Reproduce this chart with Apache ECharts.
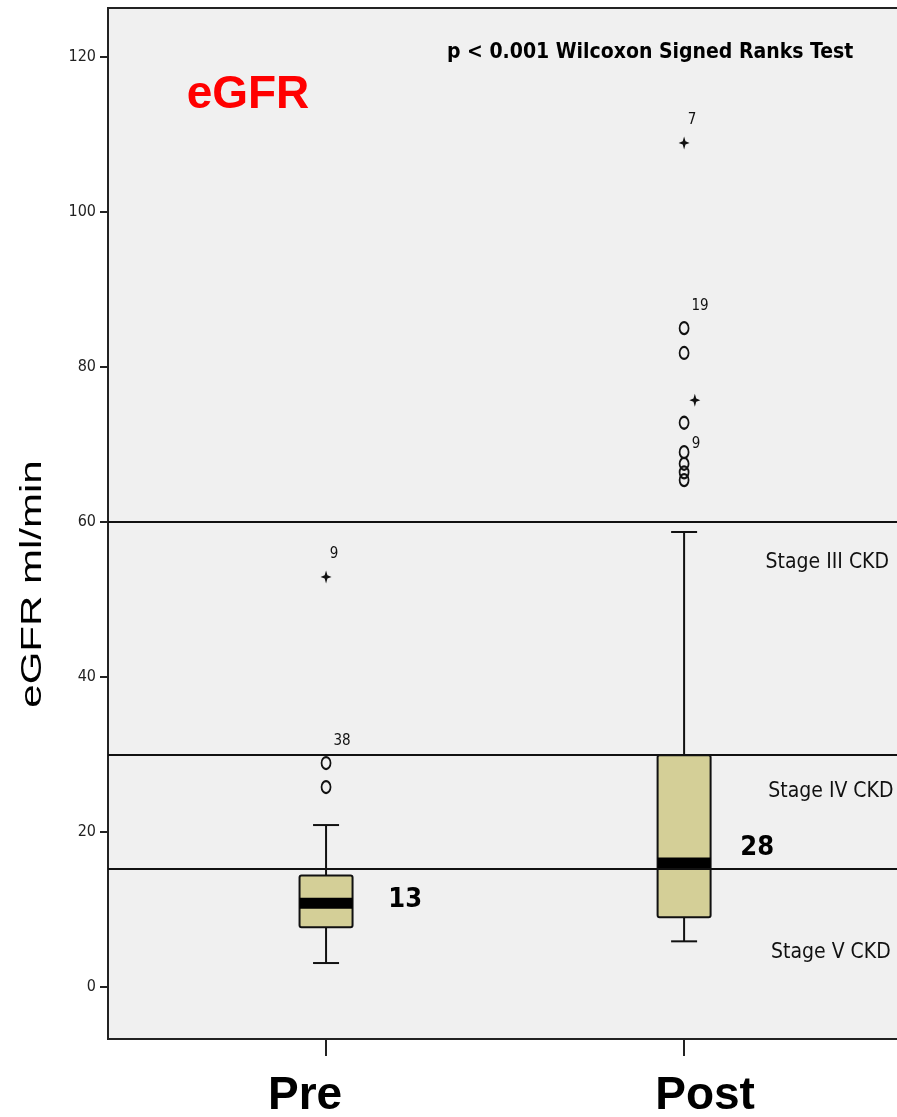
<!DOCTYPE html>
<html>
<head>
<meta charset="utf-8">
<script src="https://cdn.jsdelivr.net/npm/echarts@6/dist/echarts.min.js"></script>
<style>
  html, body { margin: 0; padding: 0; background: #fff; }
  #chart { width: 897px; height: 1117px; }
</style>
</head>
<body>
<div id="chart"></div>
<script>
  // groups sit on a value x-axis: Pre = 0, Post = 1
  const groupNames = ['Pre', 'Post'];
  const groupX = [0, 1];
  // [min, Q1, median, Q3, max]
  const boxStats = [
    [3.1, 7.7, 10.8, 14.4, 20.9],
    [5.9, 9.0, 16.0, 29.9, 58.7]
  ];
  const boxNotes = ['13', '28'];
  // outliers [x, value, case label]
  const circleOutliers = [
    [0, 28.9, '38'], [0, 25.8, ''],
    [1, 85.0, '19'], [1, 81.8, ''], [1, 72.8, ''], [1, 69.0, '9'],
    [1, 67.5, ''], [1, 66.4, ''], [1, 65.4, '']
  ];
  const extremeOutliers = [
    [0, 52.9, '9'], [1, 108.9, '7'], [1.03, 75.7, '']
  ];
  const stageCuts = [60, 30, 15.3];
  const stageLabels = [
    [1.4, 54.8, 'Stage III CKD'],
    [1.41, 25.2, 'Stage IV CKD'],
    [1.41, 4.5, 'Stage V CKD']
  ];
  const yTicks = [0, 20, 40, 60, 80, 100, 120];

  const narrow = '"Liberation Sans Narrow", "DejaVu Sans Condensed", sans-serif';
  const arial = 'Arial, "Liberation Sans", sans-serif';
  const boxColor = '#d4cf97';

  const chart = echarts.init(document.getElementById('chart'));

  function renderBox(params, api) {
    const x = api.value(0);
    const lo = api.coord([x, api.value(1)]);
    const q1 = api.coord([x, api.value(2)]);
    const med = api.coord([x, api.value(3)]);
    const q3 = api.coord([x, api.value(4)]);
    const hi = api.coord([x, api.value(5)]);
    const cx = lo[0];
    const w = 53;
    const cap = 13;
    const stroke = { stroke: '#111', lineWidth: 2 };
    return {
      type: 'group',
      children: [
        { type: 'line', shape: { x1: cx, y1: hi[1], x2: cx, y2: q3[1] }, style: stroke },
        { type: 'line', shape: { x1: cx, y1: lo[1], x2: cx, y2: q1[1] }, style: stroke },
        { type: 'line', shape: { x1: cx - cap, y1: hi[1], x2: cx + cap, y2: hi[1] }, style: stroke },
        { type: 'line', shape: { x1: cx - cap, y1: lo[1], x2: cx + cap, y2: lo[1] }, style: stroke },
        {
          type: 'rect',
          shape: { x: cx - w / 2, y: q3[1], width: w, height: q1[1] - q3[1], r: 2 },
          style: { fill: boxColor, stroke: '#111', lineWidth: 2 }
        },
        {
          type: 'rect',
          shape: { x: cx - w / 2, y: med[1] - 5.5, width: w, height: 11 },
          style: { fill: '#000' }
        }
      ]
    };
  }

  const caseLabel = (offset) => ({
    show: true,
    position: 'inside',
    offset: offset,
    formatter: (p) => p.value[2],
    fontFamily: narrow,
    fontSize: 15,
    color: '#111'
  });

  chart.setOption({
    animation: false,
    grid: {
      left: 108, right: -3, top: 8, bottom: 78,
      outerBoundsMode: 'none',
      containLabel: false,
      show: true,
      backgroundColor: '#f0f0f0',
      borderColor: '#222',
      borderWidth: 2
    },
    graphic: [
      {
        type: 'text',
        x: 33,
        y: 584,
        rotation: Math.PI / 2,
        scaleX: 1.4,
        style: {
          text: 'eGFR ml/min',
          fontFamily: arial,
          fontSize: 30,
          fill: '#000',
          align: 'center',
          verticalAlign: 'middle'
        }
      }
    ],
    xAxis: {
      type: 'value',
      min: -0.609,
      max: 1.603,
      splitLine: { show: false },
      axisLine: { show: true, onZero: false, lineStyle: { color: '#222', width: 2 } },
      axisTick: { show: true, customValues: groupX, length: 17, lineStyle: { color: '#222', width: 2 } },
      axisLabel: {
        customValues: groupX,
        formatter: (v) => (Math.round(v) === 0 ? '{pre|' : '{post|') + groupNames[Math.round(v)] + '}',
        margin: 34,
        rich: {
          pre: { fontFamily: arial, fontWeight: 'bold', fontSize: 46, color: '#000', padding: [0, 42, 0, 0] },
          post: { fontFamily: arial, fontWeight: 'bold', fontSize: 46, color: '#000', padding: [0, 0, 0, 42] }
        }
      }
    },
    yAxis: {
      type: 'value',
      min: -6.7,
      max: 126.3,
      splitLine: { show: false },
      axisLine: { show: true, onZero: false, lineStyle: { color: '#222', width: 2 } },
      axisTick: { show: true, customValues: yTicks, length: 8, lineStyle: { color: '#222', width: 2 } },
      axisLabel: { customValues: yTicks, fontFamily: narrow, fontSize: 16, color: '#222', margin: 12 }
    },
    series: [
      {
        type: 'scatter',
        data: [],
        markLine: {
          silent: true,
          symbol: 'none',
          label: { show: false },
          lineStyle: { color: '#111', width: 2, type: 'solid' },
          data: stageCuts.map((v) => ({ yAxis: v }))
        }
      },
      {
        type: 'custom',
        renderItem: renderBox,
        encode: { x: 0, y: [1, 2, 3, 4, 5] },
        data: groupX.map((x, i) => [x].concat(boxStats[i])),
        z: 3
      },
      {
        type: 'scatter',
        symbol: 'circle',
        symbolSize: [9, 12],
        itemStyle: { color: 'rgba(0,0,0,0)', borderColor: '#111', borderWidth: 2, opacity: 1 },
        data: circleOutliers.map((d) => ({
          value: d,
          label: d[1] === 69.0 ? caseLabel([12, -8]) : caseLabel([16, -22])
        })),
        z: 4
      },
      {
        type: 'scatter',
        symbol: 'path://M0,-10 L2.5,-2.5 L10,0 L2.5,2.5 L0,10 L-2.5,2.5 L-10,0 L-2.5,-2.5 Z',
        symbolSize: [11, 13],
        itemStyle: { color: '#111', opacity: 1 },
        label: caseLabel([8, -23]),
        data: extremeOutliers,
        z: 4
      },
      {
        type: 'scatter',
        symbolSize: 0,
        silent: true,
        itemStyle: { opacity: 1 },
        label: {
          show: true,
          position: 'inside',
          formatter: (p) => p.value[2],
          fontFamily: narrow,
          fontSize: 21,
          color: '#111'
        },
        data: stageLabels.concat([
          { value: [0.221, 11.2, boxNotes[0]], label: { fontWeight: 'bold', fontSize: 27, color: '#000' } },
          { value: [1.204, 17.9, boxNotes[1]], label: { fontWeight: 'bold', fontSize: 27, color: '#000' } },
          { value: [0.905, 120.5, 'p < 0.001 Wilcoxon Signed Ranks Test'], label: { fontWeight: 'bold', fontSize: 21, color: '#000' } },
          {
            value: [-0.218, 115.1, 'eGFR'],
            label: { fontFamily: arial, fontWeight: 'bold', fontSize: 46, color: '#ff0000' }
          }
        ]),
        z: 5
      }
    ]
  });
</script>
</body>
</html>
